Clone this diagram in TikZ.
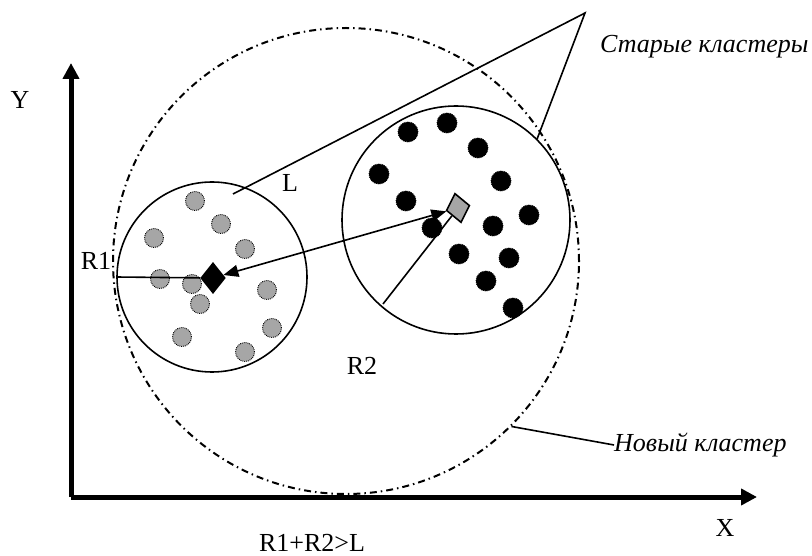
\documentclass[tikz,border=0pt]{standalone}
\usepackage{fontspec}
\setmainfont{Liberation Serif}
\usetikzlibrary{calc,positioning,shapes,arrows.meta}
\usepackage{xcolor}
\definecolor{dotgray}{RGB}{166,166,166}

\begin{document}
\begin{tikzpicture}[x=1pt, y=-1pt, lbl/.style={inner sep=0pt, font=\fontsize{26}{30}\selectfont}, thin/.style={line width=1.6pt}]
\tikzstyle{axis}=[line width=5pt, -{Triangle[length=16pt,width=16pt]}]
\tikzstyle{cluster}=[circle, draw, line width=1.6pt, inner sep=0pt]
\tikzstyle{gdot}=[circle, fill=dotgray, draw=black, densely dotted, line width=0.9pt, minimum size=19pt, inner sep=0pt]
\tikzstyle{bdot}=[circle, fill=black, draw=black, densely dotted, line width=0.9pt, minimum size=20pt, inner sep=0pt]
\tikzstyle{centre}=[diamond, draw, line width=1.6pt, minimum width=24pt, minimum height=30pt, inner sep=0pt]
\useasboundingbox (0,0) rectangle (812,556);
\coordinate (o) at (71,497);
\coordinate (xend) at (757,497);
\coordinate (yend) at (71,63);
\draw[axis] (o) -- (xend);
\draw[axis] (o) -- (yend);
\node[lbl] (ylbl) at (20,100) {Y};
\node[lbl] (xlbl) at (725,528) {X};
\node[lbl] (cond) at (312,543) {R1+R2>L};
% new cluster
\node[circle, draw, line width=2pt, dash pattern=on 7pt off 4pt on 1.5pt off 4pt, minimum size=466pt, inner sep=0pt] (new) at (346,261) {};
% old clusters
\node[cluster, minimum size=190pt] (c1) at (212,277) {};
\node[cluster, minimum size=228pt] (c2) at (456,220) {};
\foreach \x/\y in {195/201,221/224,154/238,245/249,160/279,192/284,200/304,267/290,272/328,182/337,245/352}{\node[gdot] at (\x,\y) {};}
\foreach \x/\y in {408/132,447/123,478/148,379/174,501/181,406/201,529/215,432/228,493/226,459/254,509/258,486/281,513/308}{\node[bdot] at (\x,\y) {};}
\node[centre, fill=black] (ca) at (213,278) {};
\node[centre, fill=dotgray, rotate=12] (cb) at (458,208) {};
\coordinate (r1) at (c1.west);
\coordinate (r2) at (383,304);
\draw[thin] (r1) -- (ca);
\draw[thin] (r2) -- (cb);
\draw[thin, {Triangle[length=15pt,width=12pt]}-{Triangle[length=15pt,width=12pt]}] (ca) -- (cb);
\node[lbl] (r1lbl) at (96,261) {R1};
\node[lbl] (llbl) at (290,183) {L};
\node[lbl] (r2lbl) at (362,366) {R2};
% labels
\coordinate (tip) at (585,13);
\coordinate (inner) at (233,194);
\node[lbl, anchor=west] (oldlbl) at (600,47) {\itshape Старые кластеры};
\node[lbl, anchor=west] (newlbl) at (614,445) {\itshape Новый кластер};
\draw[thin] (inner) -- (tip) -- (c2.45);
\draw[thin] (new.-45) -- (newlbl.west);
\end{tikzpicture}
\end{document}
